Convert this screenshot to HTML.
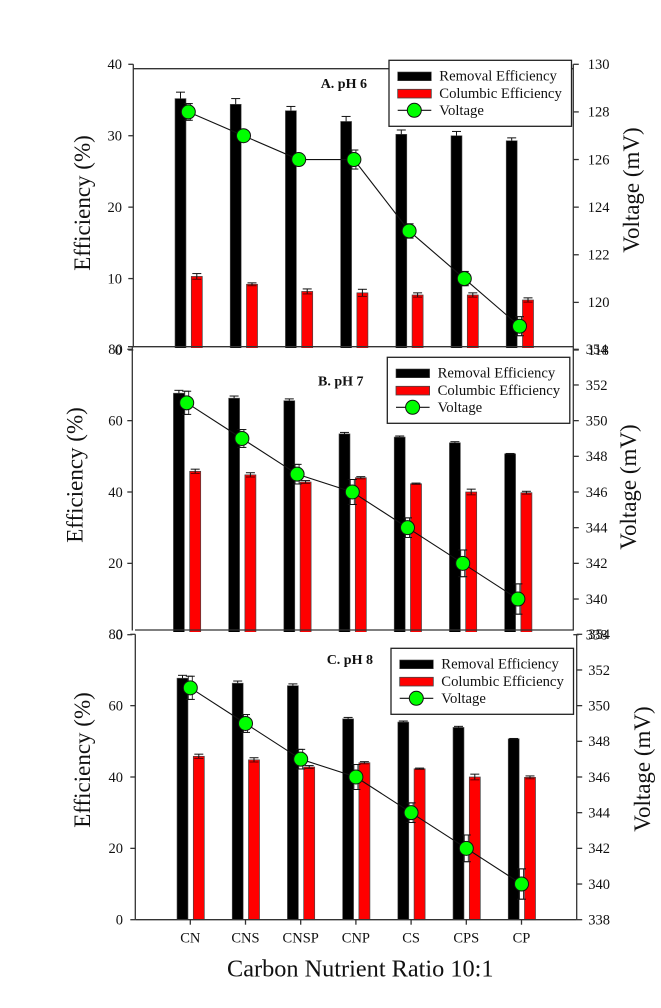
<!DOCTYPE html>
<html lang="en">
<head>
<meta charset="utf-8">
<title>Efficiency and Voltage by Carbon Nutrient Ratio</title>
<style>
html,body{margin:0;padding:0;background:#fff;}
#chart{display:block;width:661px;height:1008px;font-family:"Liberation Serif",serif;filter:blur(0.35px);}
text{fill:#111;}
</style>
</head>
<body>
<svg id="chart" xmlns="http://www.w3.org/2000/svg" width="661" height="1008" viewBox="0 0 661 1008"></svg>
<script>
const categories = ['CN', 'CNS', 'CNSP', 'CNP', 'CS', 'CPS', 'CP'];

const removalA = [35.2, 34.4, 33.5, 32.0, 30.2, 30.0, 29.3];
const removalErrA = [0.9, 0.8, 0.6, 0.7, 0.6, 0.6, 0.4];
const columbicA = [10.3, 9.2, 8.2, 8.0, 7.7, 7.7, 7.0];
const columbicErrA = [0.4, 0.2, 0.35, 0.5, 0.3, 0.3, 0.3];
const voltageA = [128, 127, 126, 126, 123, 121, 119];
const voltageErrA = [0.35, 0.1, 0.1, 0.4, 0.3, 0.3, 0.4];

const removalB = [67.7, 66.3, 65.6, 56.3, 55.4, 53.8, 50.7];
const removalErrB = [0.8, 0.6, 0.5, 0.4, 0.3, 0.3, 0.1];
const columbicB = [45.8, 44.8, 42.8, 44.0, 42.3, 40.0, 39.8];
const columbicErrB = [0.6, 0.6, 0.4, 0.3, 0.2, 0.8, 0.4];
const voltageB = [351, 349, 347, 346, 344, 342, 340];
const voltageErrB = [0.65, 0.5, 0.55, 0.7, 0.55, 0.75, 0.85];

const removalC = [67.7, 66.3, 65.6, 56.3, 55.4, 53.9, 50.7];
const removalErrC = [0.8, 0.6, 0.5, 0.4, 0.3, 0.3, 0.1];
const columbicC = [45.8, 44.8, 42.8, 44.0, 42.3, 40.0, 39.9];
const columbicErrC = [0.6, 0.6, 0.4, 0.3, 0.2, 0.8, 0.4];
const voltageC = [351, 349, 347, 346, 344, 342, 340];
const voltageErrC = [0.65, 0.5, 0.55, 0.7, 0.55, 0.75, 0.85];

const leftTicksA = [0, 10, 20, 30, 40];
const rightTicksA = [118, 120, 122, 124, 126, 128, 130];
const leftTicksB = [0, 20, 40, 60, 80];
const rightTicksB = [338, 340, 342, 344, 346, 348, 350, 352, 354];
const leftTicksC = [0, 20, 40, 60, 80];
const rightTicksC = [338, 340, 342, 344, 346, 348, 350, 352, 354];

const legendLabels = ['Removal Efficiency', 'Columbic Efficiency', 'Voltage'];

const NS = 'http://www.w3.org/2000/svg';
const root = document.getElementById('chart');

function make(parent, tag, attrs, text) {
  const el = document.createElementNS(NS, tag);
  for (const k in attrs) el.setAttribute(k, attrs[k]);
  if (text !== undefined) el.textContent = text;
  parent.appendChild(el);
  return el;
}

function linearScale(d0, d1, r0, r1) {
  return function (v) { return r0 + (v - d0) * (r1 - r0) / (d1 - d0); };
}

function drawPanel(p) {
  const group = make(root, 'g', {});
  
  

  const leftMin = p.leftTicks[0];
  const leftMax = p.leftTicks[p.leftTicks.length - 1];
  const rightMin = p.rightTicks[0];
  const rightMax = p.rightTicks[p.rightTicks.length - 1];
  const yLeft = linearScale(leftMin, leftMax, p.yBase, p.yTop);
  const yRight = linearScale(rightMin, rightMax, p.yBase, p.yTop);
  const xPos = function (i) { return p.x0 + i * p.step; };
  const axisColor = '#333';

  const clipId = 'clip-' + p.id;
  const defs = make(group, 'defs', {});
  const clip = make(defs, 'clipPath', { id: clipId });
  make(clip, 'rect', { x: 0, y: p.clipTop, width: 661, height: p.clipBottom - p.clipTop });

  const marks = make(group, 'g', { 'clip-path': 'url(#' + clipId + ')' });
  
  

  categories.forEach(function (c, i) {
    const x = xPos(i);
    const blackTop = yLeft(p.removal[i]);
    const bar = make(marks, 'rect', { x: x - 13.3, y: blackTop, width: 11, height: p.yBase - blackTop, fill: '#000', stroke: '#555', 'stroke-width': 0.6 });
    
    
    const blackErr = yLeft(p.removal[i] + p.removalErr[i]);
    make(marks, 'line', { x1: x - 7.8, x2: x - 7.8, y1: blackTop, y2: blackErr, stroke: '#111', 'stroke-width': 1 });
    make(marks, 'line', { x1: x - 12.3, x2: x - 3.3, y1: blackErr, y2: blackErr, stroke: '#111', 'stroke-width': 1 });

    const redTop = yLeft(p.columbic[i]);
    const red = make(marks, 'rect', { x: x + 3, y: redTop, width: 11, height: p.yBase - redTop, fill: '#f00', stroke: '#444', 'stroke-width': 0.7 });
    
    
    const redErr = yLeft(p.columbic[i] + p.columbicErr[i]);
    const redErrLow = yLeft(p.columbic[i] - p.columbicErr[i]);
    make(marks, 'line', { x1: x + 8.5, x2: x + 8.5, y1: redErrLow, y2: redErr, stroke: '#111', 'stroke-width': 1 });
    make(marks, 'line', { x1: x + 4, x2: x + 13, y1: redErr, y2: redErr, stroke: '#111', 'stroke-width': 1 });
    make(marks, 'line', { x1: x + 4, x2: x + 13, y1: redErrLow, y2: redErrLow, stroke: '#600', 'stroke-width': 1 });
  });

  const pts = p.voltage.map(function (v, i) { return xPos(i) + ',' + yRight(v); }).join(' ');
  const line = make(marks, 'polyline', { points: pts, fill: 'none', stroke: '#111', 'stroke-width': 1.1 });
  
  

  p.voltage.forEach(function (v, i) {
    const x = xPos(i);
    const hi = yRight(v + p.voltageErr[i]);
    const lo = yRight(v - p.voltageErr[i]);
    make(marks, 'rect', { x: x - 2, y: hi, width: 4, height: lo - hi, fill: '#fff', stroke: '#222', 'stroke-width': 0.9 });
    make(marks, 'line', { x1: x - 4.5, x2: x + 4.5, y1: hi, y2: hi, stroke: '#111', 'stroke-width': 1 });
    make(marks, 'line', { x1: x - 4.5, x2: x + 4.5, y1: lo, y2: lo, stroke: '#111', 'stroke-width': 1 });
    const dot = make(marks, 'circle', { cx: x, cy: yRight(v), r: 7, fill: '#0f0', stroke: '#111', 'stroke-width': 1 });
    
    
  });

  const axes = make(group, 'g', { stroke: axisColor, 'stroke-width': 1.3, fill: 'none' });
  
  
  make(axes, 'line', { x1: p.xLeft, x2: p.xLeft, y1: p.axisTop, y2: p.axisBottom });
  make(axes, 'line', { x1: p.xRight, x2: p.xRight, y1: p.axisTop, y2: p.axisBottom });
  if (p.frameTop !== null) make(axes, 'line', { x1: p.xLeft, x2: p.xRight, y1: p.frameTop, y2: p.frameTop });
  make(axes, 'line', { x1: p.frameBottomStart, x2: p.xRight, y1: p.frameBottom, y2: p.frameBottom });

  p.leftTicks.forEach(function (t) {
    const y = yLeft(t);
    make(axes, 'line', { x1: p.xLeft - 5, x2: p.xLeft, y1: y, y2: y });
    const label = make(group, 'text', { x: p.leftLabelX, y: y + 4.8, 'text-anchor': 'end', 'font-size': 14.5 }, String(t));
    
    
  });
  p.rightTicks.forEach(function (t) {
    const y = yRight(t);
    make(axes, 'line', { x1: p.xRight, x2: p.xRight + 5.5, y1: y, y2: y });
    const label = make(group, 'text', { x: p.rightLabelX, y: y + 4.8, 'font-size': 14.5 }, String(t));
    
    
  });

  if (p.showCategories) {
    categories.forEach(function (c, i) {
      const x = xPos(i);
      make(axes, 'line', { x1: x, x2: x, y1: p.yBase, y2: p.yBase + 5 });
      const label = make(group, 'text', { x: x, y: p.yBase + 23, 'text-anchor': 'middle', 'font-size': 14.5 }, c);
      
      
    });
  }

  const panelTitle = make(group, 'text', { x: p.titleX, y: p.titleY, 'font-size': 14, 'font-weight': 'bold' }, p.title);
  
  

  const leftTitle = make(group, 'text', { transform: 'translate(' + p.leftTitleX + ',' + p.leftTitleY + ') rotate(-90)', 'text-anchor': 'middle', 'font-size': 23 }, 'Efficiency (%)');
  
  

  const rightTitle = make(group, 'text', { transform: 'translate(' + p.rightTitleX + ',' + p.rightTitleY + ') rotate(-90)', 'text-anchor': 'middle', 'font-size': 23 }, 'Voltage (mV)');
  
  

  const lg = p.legend;
  const legend = make(group, 'g', {});
  
  
  make(legend, 'rect', { x: lg.x, y: lg.y, width: 182.5, height: 66, fill: '#fff', stroke: '#222', 'stroke-width': 1.3 });
  make(legend, 'rect', { x: lg.x + 8.7, y: lg.y + 11.7, width: 33.6, height: 8.7, fill: '#000', stroke: '#444', 'stroke-width': 0.6 });
  make(legend, 'rect', { x: lg.x + 8.7, y: lg.y + 29, width: 33.6, height: 8.7, fill: '#f00', stroke: '#444', 'stroke-width': 0.8 });
  make(legend, 'line', { x1: lg.x + 8.7, x2: lg.x + 42.3, y1: lg.y + 50, y2: lg.y + 50, stroke: '#111', 'stroke-width': 1.1 });
  make(legend, 'circle', { cx: lg.x + 25.3, cy: lg.y + 50, r: 7, fill: '#0f0', stroke: '#111', 'stroke-width': 1 });
  legendLabels.forEach(function (t, i) {
    const entry = make(legend, 'text', { x: lg.x + 50.3, y: lg.y + 20.4 + i * 17.2, 'font-size': 14.7 }, t);
    
    
  });
}

drawPanel({
  id: 'a', title: 'A. pH 6', titleX: 320.7, titleY: 88,
  removal: removalA, removalErr: removalErrA, columbic: columbicA, columbicErr: columbicErrA,
  voltage: voltageA, voltageErr: voltageErrA, leftTicks: leftTicksA, rightTicks: rightTicksA,
  yBase: 350, yTop: 64.3, x0: 188.3, step: 55.2, xLeft: 133.3, xRight: 573.3,
  axisTop: 64.3, axisBottom: 347.5, frameTop: 68.7, frameBottom: 346.7, frameBottomStart: 128,
  clipTop: 0, clipBottom: 348, leftLabelX: 122, rightLabelX: 587.7,
  leftTitleX: 90, leftTitleY: 203, rightTitleX: 639, rightTitleY: 190,
  legend: { x: 389, y: 60.3 }, showCategories: false
});
drawPanel({
  id: 'b', title: 'B. pH 7', titleX: 318, titleY: 385.7,
  removal: removalB, removalErr: removalErrB, columbic: columbicB, columbicErr: columbicErrB,
  voltage: voltageB, voltageErr: voltageErrB, leftTicks: leftTicksB, rightTicks: rightTicksB,
  yBase: 634.7, yTop: 349.3, x0: 186.7, step: 55.2, xLeft: 132.3, xRight: 573.3,
  axisTop: 347.3, axisBottom: 630.5, frameTop: null, frameBottom: 630, frameBottomStart: 135,
  clipTop: 348, clipBottom: 632, leftLabelX: 122.7, rightLabelX: 585.7,
  leftTitleX: 82.7, leftTitleY: 475, rightTitleX: 636, rightTitleY: 487,
  legend: { x: 387.3, y: 357.3 }, showCategories: false
});
drawPanel({
  id: 'c', title: 'C. pH 8', titleX: 326.7, titleY: 664,
  removal: removalC, removalErr: removalErrC, columbic: columbicC, columbicErr: columbicErrC,
  voltage: voltageC, voltageErr: voltageErrC, leftTicks: leftTicksC, rightTicks: rightTicksC,
  yBase: 919.7, yTop: 634.3, x0: 190.3, step: 55.2, xLeft: 135.3, xRight: 576.7,
  axisTop: 634.3, axisBottom: 919.7, frameTop: null, frameBottom: 919.7, frameBottomStart: 135.3,
  clipTop: 632, clipBottom: 1008, leftLabelX: 123, rightLabelX: 588.3,
  leftTitleX: 90, leftTitleY: 760, rightTitleX: 650, rightTitleY: 769,
  legend: { x: 391, y: 648.3 }, showCategories: true
});

const xTitle = make(root, 'text', { x: 227, y: 976.7, 'font-size': 24.3 }, 'Carbon Nutrient Ratio 10:1');


</script>
</body>
</html>
